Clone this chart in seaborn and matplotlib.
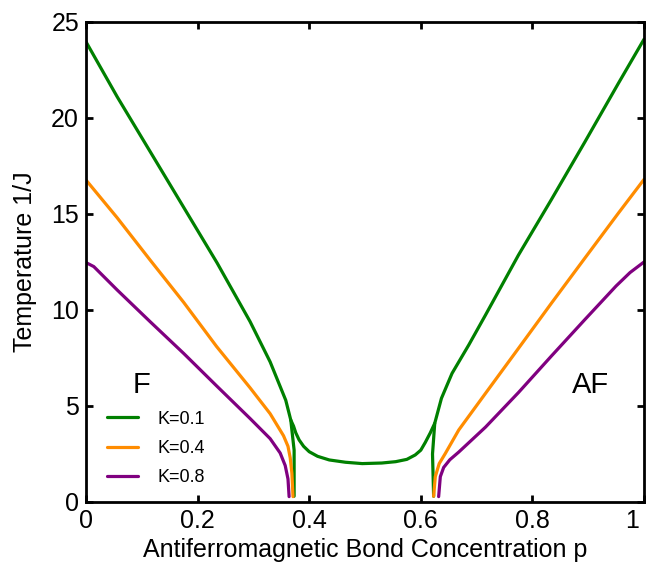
import numpy as np
import pandas as pd
import matplotlib
matplotlib.use("Agg")
import matplotlib.pyplot as plt
import matplotlib.transforms as mtransforms
import seaborn as sns

# K=0.1 (green): ferro branch, paramagnetic dip in the middle, antiferro branch
green_left_p = [0.0, 0.056, 0.115, 0.175, 0.235, 0.294, 0.33, 0.358, 0.367, 0.373, 0.373]
green_left_T = [23.97, 21.1, 18.25, 15.35, 12.45, 9.4, 7.3, 5.3, 4.27, 2.7, 0.3]
green_mid_p = [0.367, 0.372, 0.376, 0.382, 0.39, 0.4, 0.415, 0.436, 0.465, 0.495,
               0.53, 0.555, 0.575, 0.59, 0.6, 0.608, 0.617, 0.625]
green_mid_T = [4.27, 3.95, 3.6, 3.23, 2.9, 2.62, 2.38, 2.19, 2.07, 2.0,
               2.03, 2.1, 2.22, 2.45, 2.7, 3.1, 3.6, 4.1]
green_right_p = [0.623, 0.621, 0.625, 0.637, 0.656, 0.686, 0.716, 0.775, 0.834, 0.894, 0.954, 1.0]
green_right_T = [0.3, 2.5, 4.1, 5.4, 6.7, 8.18, 9.74, 12.86, 15.75, 18.75, 21.8, 24.1]

# K=0.4 (orange)
orange_left_p = [0.0, 0.056, 0.115, 0.175, 0.234, 0.294, 0.33, 0.354, 0.362, 0.366, 0.369, 0.371]
orange_left_T = [16.77, 14.8, 12.6, 10.4, 8.1, 5.95, 4.6, 3.45, 2.9, 2.3, 1.5, 0.28]
orange_right_p = [0.623, 0.626, 0.633, 0.644, 0.668, 0.716, 0.775, 0.834, 0.894, 0.954, 1.0]
orange_right_T = [0.3, 1.32, 2.0, 2.53, 3.75, 5.66, 8.0, 10.35, 12.7, 15.04, 16.8]

# K=0.8 (purple)
purple_left_p = [0.0, 0.014, 0.056, 0.115, 0.175, 0.234, 0.294, 0.33, 0.348, 0.357, 0.362, 0.364]
purple_left_T = [12.47, 12.26, 11.04, 9.39, 7.74, 6.05, 4.35, 3.3, 2.55, 1.9, 1.2, 0.28]
purple_right_p = [0.632, 0.635, 0.641, 0.652, 0.668, 0.716, 0.775, 0.834, 0.894, 0.95, 0.975, 1.0]
purple_right_T = [0.28, 1.32, 1.8, 2.2, 2.6, 3.9, 5.7, 7.6, 9.5, 11.25, 11.95, 12.5]

x_ticks = [0, 0.2, 0.4, 0.6, 0.8, 1.0]
x_ticklabels = ['0', '0.2', '0.4', '0.6', '0.8', '1']
y_ticks = [0, 5, 10, 15, 20, 25]

sns.set_theme(style='ticks')
plt.rcParams['font.family'] = ['Liberation Sans', 'DejaVu Sans']
plt.rcParams['text.color'] = 'black'
plt.rcParams['axes.labelcolor'] = 'black'

fig = plt.figure(figsize=(6.46, 5.68), dpi=100)
ax = fig.add_axes([0.1331, 0.1162, 0.8638, 0.8451])

series = [
    ('K=0.1', 'green', [(green_left_p, green_left_T), (green_mid_p, green_mid_T), (green_right_p, green_right_T)]),
    ('K=0.4', 'darkorange', [(orange_left_p, orange_left_T), (orange_right_p, orange_right_T)]),
    ('K=0.8', 'purple', [(purple_left_p, purple_left_T), (purple_right_p, purple_right_T)]),
]

for label, color, segs in series:
    for i, (p, T) in enumerate(segs):
        df = pd.DataFrame({'p': p, 'T': T})
        sns.lineplot(data=df, x='p', y='T', ax=ax, color=color, lw=2.3,
                     sort=False, estimator=None, label=label if i == 0 else None)

ax.set_xlim(0, 1)
ax.set_ylim(0, 25)
ax.set_xticks(x_ticks)
ax.set_xticklabels(x_ticklabels)
ax.set_yticks(y_ticks)
ax.tick_params(direction='in', top=True, right=True, length=5, width=2,
               labelsize=18, pad=5, colors='black')
for s in ax.spines.values():
    s.set_linewidth(2)
    s.set_color('black')

# the "1" label sits a bit left of its tick, inside the figure
last = ax.get_xticklabels()[-1]
last.set_transform(last.get_transform() +
                   mtransforms.ScaledTranslation(-0.12, 0, fig.dpi_scale_trans))

ax.set_xlabel('Antiferromagnetic Bond Concentration p', fontsize=18, labelpad=4)
ax.set_ylabel('Temperature 1/J', fontsize=18, labelpad=10)

ax.text(0.1, 6.1, 'F', fontsize=21, ha='center', va='center')
ax.text(0.905, 6.1, 'AF', fontsize=21, ha='center', va='center')

ax.legend(loc='upper left', bbox_to_anchor=(0.025, 0.205), borderaxespad=0,
          frameon=False, fontsize=13, handlelength=1.7, handletextpad=1.1,
          labelspacing=0.68)

fig.savefig('out.png', dpi=100)
